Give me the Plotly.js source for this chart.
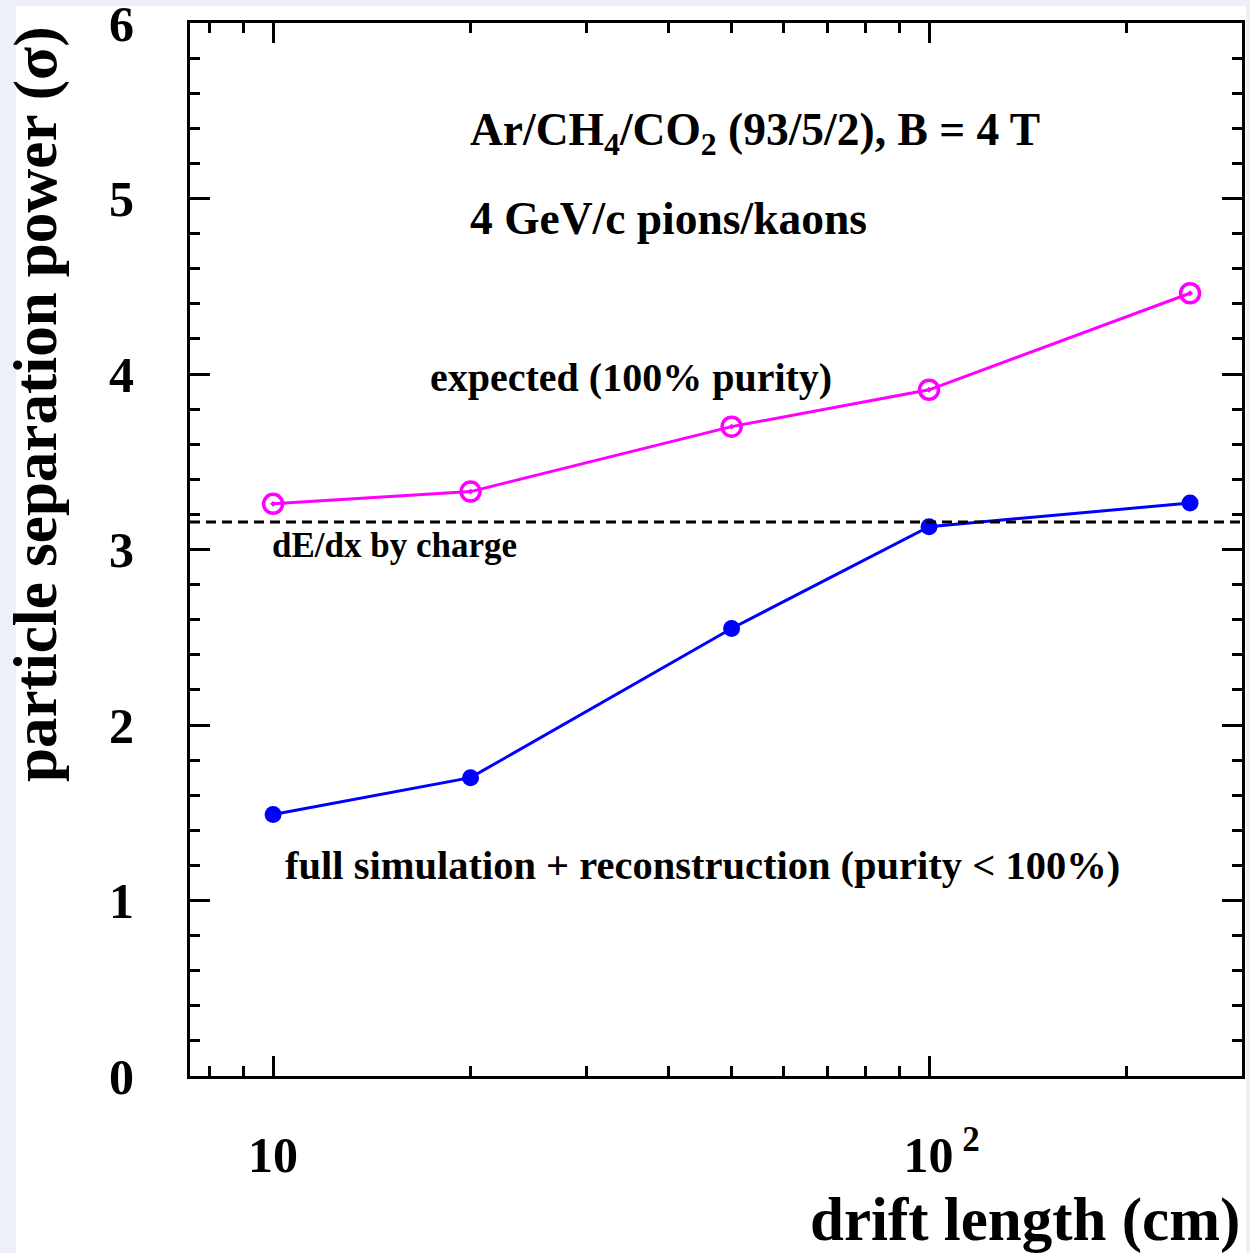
<!DOCTYPE html>
<html>
<head>
<meta charset="utf-8">
<script src="https://cdn.plot.ly/plotly-3.0.1.min.js"></script>
<style>
  html, body { margin: 0; padding: 0; background: #eef0f7; }
  #chart { width: 1250px; height: 1253px; }
</style>
</head>
<body>
<div id="chart"></div>
<script>
// ---- data ----
const driftLength = [10, 20, 50, 100, 250];                 // cm
const expectedPower = [3.26, 3.33, 3.70, 3.91, 4.46];        // sigma, 100% purity
const fullSimPower = [1.49, 1.70, 2.55, 3.13, 3.265];        // sigma, full sim + reco
const chargeOnlyPower = 3.157;                               // dE/dx by charge (dashed)

const xMajorTicks = [10, 100];
const xMajorLabels = ['10', '\u200210<sup> 2</sup>'];
const xMinorTicks = [8, 9, 20, 30, 40, 50, 60, 70, 80, 90, 200];

const serif = 'Liberation Serif, Times New Roman, serif';

const traces = [
  {
    x: driftLength, y: expectedPower, type: 'scatter', mode: 'lines+markers',
    name: 'expected (100% purity)',
    line: {color: '#ff00ff', width: 3},
    marker: {symbol: 'circle-open-dot', size: 19, color: '#ff00ff', line: {color: '#ff00ff', width: 3.5}},
    showlegend: false, cliponaxis: false
  },
  {
    x: driftLength, y: fullSimPower, type: 'scatter', mode: 'lines+markers',
    name: 'full simulation + reconstruction',
    line: {color: '#0000ff', width: 3},
    marker: {symbol: 'circle', size: 17, color: '#0000ff'},
    showlegend: false, cliponaxis: false
  }
];

const L = 190, T = 23, R = 8, B = 177, W = 1250, H = 1253;
const pw = W - L - R, ph = H - T - B;
const px = v => (v - L) / pw;
const py = v => (H - B - v) / ph;

const axisCommon = {
  showline: true, linecolor: '#000', linewidth: 3, mirror: 'allticks',
  ticks: 'inside', ticklen: 20, tickwidth: 3, tickcolor: '#000',
  showgrid: false, zeroline: false,
  ticklabeloverflow: 'allow',
  tickfont: {family: serif, size: 50, color: '#000', weight: 'bold'}
};

const layout = {
  width: W, height: H,
  margin: {l: L, r: R, t: T, b: B},
  paper_bgcolor: '#eef0f7',
  plot_bgcolor: '#ffffff',
  showlegend: false,
  xaxis: Object.assign({}, axisCommon, {
    type: 'log',
    range: [Math.log10(7.47), Math.log10(300)],
    tickmode: 'array', tickvals: xMajorTicks, ticktext: xMajorLabels,
    ticklabelstandoff: 33,
    minor: {tickmode: 'array', tickvals: xMinorTicks, ticks: 'inside', ticklen: 10, tickwidth: 3, tickcolor: '#000', showgrid: false}
  }),
  yaxis: Object.assign({}, axisCommon, {
    range: [0, 6],
    tickmode: 'linear', tick0: 0, dtick: 1,
    ticklabelstandoff: 43,
    minor: {dtick: 0.2, ticks: 'inside', ticklen: 10, tickwidth: 3, tickcolor: '#000', showgrid: false}
  }),
  shapes: [
    {type: 'rect', xref: 'paper', yref: 'paper', layer: 'below',
     x0: px(16), x1: px(1246), y0: py(1253), y1: py(6),
     fillcolor: '#ffffff', line: {width: 0}},
    {type: 'line', xref: 'paper', yref: 'y', x0: 0, x1: 1, y0: chargeOnlyPower, y1: chargeOnlyPower,
     line: {color: '#000', width: 3, dash: '10px,6px'}}
  ],
  annotations: [
    {text: 'Ar/CH<sub>4</sub>/CO<sub>2</sub> (93/5/2), B = 4 T', xref: 'paper', yref: 'paper',
     x: px(468), y: py(133), xanchor: 'left', yanchor: 'middle', showarrow: false,
     font: {family: serif, size: 45.5, color: '#000', weight: 'bold'}},
    {text: '4 GeV/c pions/kaons', xref: 'paper', yref: 'paper',
     x: px(468), y: py(218), xanchor: 'left', yanchor: 'middle', showarrow: false,
     font: {family: serif, size: 45.5, color: '#000', weight: 'bold'}},
    {text: 'expected (100% purity)', xref: 'paper', yref: 'paper',
     x: px(428), y: py(377), xanchor: 'left', yanchor: 'middle', showarrow: false,
     font: {family: serif, size: 40, color: '#000', weight: 'bold'}},
    {text: 'dE/dx by charge', xref: 'paper', yref: 'paper',
     x: px(270), y: py(545), xanchor: 'left', yanchor: 'middle', showarrow: false,
     font: {family: serif, size: 35, color: '#000', weight: 'bold'}},
    {text: 'full simulation + reconstruction (purity &lt; 100%)', xref: 'paper', yref: 'paper',
     x: px(283), y: py(865), xanchor: 'left', yanchor: 'middle', showarrow: false,
     font: {family: serif, size: 40.5, color: '#000', weight: 'bold'}},
    {text: 'drift length (cm)', xref: 'paper', yref: 'paper',
     x: px(1242), y: py(1220), xanchor: 'right', yanchor: 'middle', showarrow: false,
     font: {family: serif, size: 61, color: '#000', weight: 'bold'}},
    {text: 'particle separation power (σ)', xref: 'paper', yref: 'paper',
     x: px(36), y: py(405), xanchor: 'center', yanchor: 'middle', textangle: -90, showarrow: false,
     font: {family: serif, size: 61, color: '#000', weight: 'bold'}}
  ]
};

Plotly.newPlot('chart', traces, layout, {displayModeBar: false, staticPlot: true});
</script>
</body>
</html>
